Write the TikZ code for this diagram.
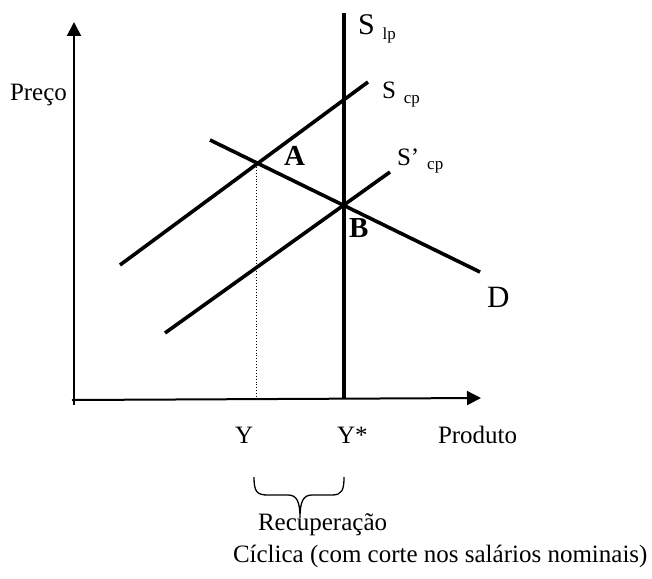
\documentclass[tikz,border=0pt]{standalone}
\usepackage{fontspec}
\setmainfont{Liberation Serif}
\usetikzlibrary{arrows.meta}
\newcommand{\fsz}[1]{\fontsize{#1}{#1}\selectfont}
\begin{document}
\begin{tikzpicture}[x=1pt,y=-1pt,
  axis/.style={line width=2pt,-{Triangle[length=14pt,width=14pt]}},
  curve/.style={line width=3.6pt},
  lbl/.style={anchor=base west,inner sep=0pt,outer sep=0pt,font=\fsz{25}}]
\useasboundingbox (0,0) rectangle (652,578);
% axes
\coordinate (O) at (74,405);
\coordinate (Ytop) at (74,22);
\coordinate (Xo) at (72,400);
\coordinate (Xend) at (481,398);
\draw[axis] (O) -- (Ytop);
\draw[axis] (Xo) -- (Xend);
% curves
\coordinate (Slp1) at (344,13);
\coordinate (Slp2) at (344,399);
\draw[line width=3.4pt] (Slp1) -- (Slp2);
\coordinate (S1a) at (120,265);
\coordinate (S1b) at (368,82);
\draw[curve] (S1a) -- (S1b);
\coordinate (S2a) at (165,333);
\coordinate (S2b) at (390,172);
\draw[curve] (S2a) -- (S2b);
\coordinate (Da) at (210,140);
\coordinate (Db) at (480,272);
\draw[curve] (Da) -- (Db);
% dotted projection
\coordinate (Apt) at (256,164);
\coordinate (Ybase) at (256,397);
\draw[line width=0.9pt,dotted] (Apt) -- (Ybase);
% labels
\node[lbl] (preco) at (10,100) {Preço};
\node[lbl,font=\fsz{30}] (slp) at (358,35) {S\hspace{8pt}\raisebox{-4.5pt}{\fsz{17}lp}};
\node[lbl] (scp) at (382,98) {S\hspace{8pt}\raisebox{-5.3pt}{\fsz{17}cp}};
\node[lbl] (sscp) at (397,165) {S’\hspace{8pt}\raisebox{-4pt}{\fsz{17}cp}};
\node[lbl,font=\fsz{29}\bfseries] (A) at (284,165) {A};
\node[lbl,font=\fsz{29}\bfseries] (B) at (349,237) {B};
\node[lbl,font=\fsz{31}] (D) at (487,307) {D};
\node[lbl] (Y) at (235,443) {Y};
\node[lbl] (Ystar) at (337,443) {Y*};
\node[lbl] (prod) at (438,443) {Produto};
\node[lbl] (rec) at (258,530) {Recuperação};
\node[lbl] (cic) at (233,562) {Cíclica (com corte nos salários nominais)};
% brace
\draw[line width=1.3pt] (254,477) .. controls (254,492) and (257,495) .. (268,495)
  -- (288,495) .. controls (297,495) and (300,502) .. (300,518)
  .. controls (300,502) and (303,495) .. (312,495)
  -- (332,495) .. controls (342,495) and (344,490) .. (344,477);
\end{tikzpicture}
\end{document}
